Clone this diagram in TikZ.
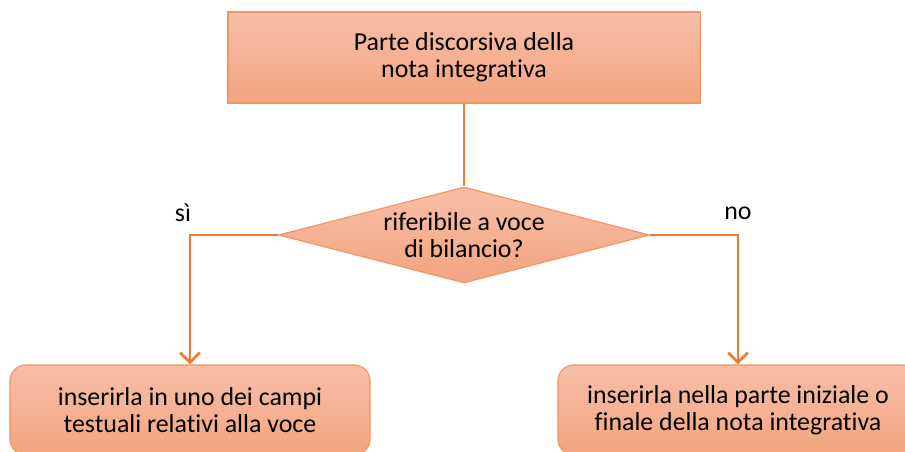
\documentclass[tikz,border=0pt]{standalone}
\usepackage{fontspec}
\setmainfont{Carlito}[Ligatures=NoCommon]
\usetikzlibrary{shapes.geometric,arrows.meta}
\definecolor{arancio}{HTML}{ED7D31}
\definecolor{chiaro}{HTML}{F6BFA7}
\definecolor{scuro}{HTML}{F4A47F}
\definecolor{bordo}{HTML}{F29562}
\tikzset{
    testo/.style={font=\fontsize{18.4}{19.4}\selectfont, align=center},
    blocco/.style={testo, draw=bordo, line width=0.8pt, top color=chiaro, bottom color=scuro, inner sep=0pt},
    linea/.style={draw=arancio, line width=2.1pt},
    freccia/.style={linea, -{Straight Barb[length=7pt,width=14pt,line width=2pt]}}
}
\begin{document}
\begin{tikzpicture}[x=0.025cm,y=-0.025cm]
                \useasboundingbox (0,0) rectangle (905,452);
                \clip (0,0) rectangle (905,452);

                \node[blocco,minimum width=11.8cm,minimum height=2.275cm] (parte) at (464,57.5) {Parte discorsiva della\\nota integrativa};
                \node[blocco,shape=diamond,aspect=3.86,minimum width=9.275cm,minimum height=2.4cm] (riferibile) at (464,235) {riferibile a voce\\di bilancio?};

                \node[blocco,rounded corners=0.4cm,minimum width=9cm,minimum height=2.25cm] (campi) at (190,410) {inserirla in uno dei campi\\testuali relativi alla voce};
                \node[blocco,rounded corners=0.4cm,minimum width=9cm,minimum height=2.25cm] (finale) at (738,410) {inserirla nella parte iniziale o\\finale della nota integrativa};

                \coordinate (siAngolo) at (190,235);
                \coordinate (noAngolo) at (738,235);

                \node[testo] (si) at (183,213) {sì};
                \node[testo] (no) at (738,213) {no};

                \draw[linea] (parte.south) -- (riferibile.north);
                \draw[freccia] (riferibile.west) -- (siAngolo) -- (campi.north);
                \draw[freccia] (riferibile.east) -- (noAngolo) -- (finale.north);
\end{tikzpicture}
\end{document}
